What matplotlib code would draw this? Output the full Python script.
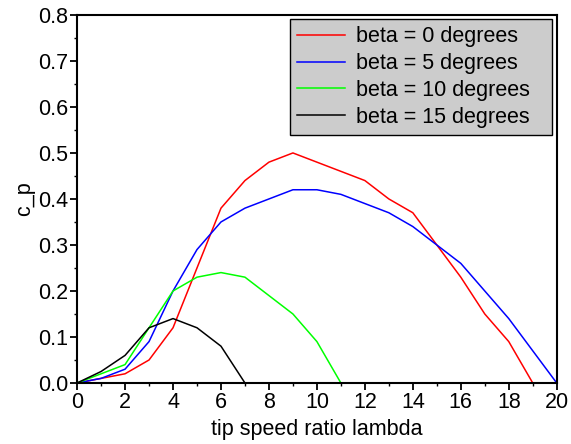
import matplotlib
matplotlib.use("Agg")
import matplotlib.pyplot as plt
from matplotlib.ticker import MultipleLocator

plt.rcParams['font.family'] = ['Liberation Sans', 'DejaVu Sans']

lam_0 = list(range(0, 20))
cp_0 = [0, 0.01, 0.02, 0.05, 0.12, 0.25, 0.38, 0.44, 0.48, 0.50, 0.48, 0.46,
        0.44, 0.40, 0.37, 0.30, 0.23, 0.15, 0.09, 0.0]
lam_5 = list(range(0, 21))
cp_5 = [0, 0.01, 0.03, 0.09, 0.20, 0.29, 0.35, 0.38, 0.40, 0.42, 0.42, 0.41,
        0.39, 0.37, 0.34, 0.30, 0.26, 0.20, 0.14, 0.07, 0.0]
lam_10 = list(range(0, 12))
cp_10 = [0, 0.02, 0.04, 0.12, 0.20, 0.23, 0.24, 0.23, 0.19, 0.15, 0.09, 0.0]
lam_15 = list(range(0, 8))
cp_15 = [0, 0.025, 0.06, 0.12, 0.14, 0.12, 0.08, 0.0]

labels = ["beta = 0 degrees", "beta = 5 degrees", "beta = 10 degrees", "beta = 15 degrees"]
colors = ["#ff0000", "#0000ff", "#00ff00", "#000000"]

FS = 15.5

fig = plt.figure(figsize=(5.71, 4.44), dpi=100)
ax = fig.add_axes([0.135, 0.1374, 0.84, 0.829])

for xs, ys, lab, c in zip([lam_0, lam_5, lam_10, lam_15], [cp_0, cp_5, cp_10, cp_15], labels, colors):
    ax.plot(xs, ys, color=c, lw=1.1, label=lab)

ax.set_xlim(0, 20)
ax.set_ylim(0, 0.8)
ax.xaxis.set_major_locator(MultipleLocator(2))
ax.xaxis.set_minor_locator(MultipleLocator(1))
ax.yaxis.set_major_locator(MultipleLocator(0.1))
ax.yaxis.set_minor_locator(MultipleLocator(0.05))
ax.yaxis.set_major_formatter(matplotlib.ticker.FormatStrFormatter('%.1f'))
ax.tick_params(which='major', direction='out', length=5, width=1.3, labelsize=FS, pad=1.5)
ax.tick_params(which='minor', direction='out', length=2.5, width=1.0)
for s in ax.spines.values():
    s.set_linewidth(1.5)

ax.set_xlabel("tip speed ratio lambda", fontsize=FS, labelpad=4)
ax.set_ylabel("c_p", fontsize=FS, labelpad=2)

leg = ax.legend(loc='upper left', bbox_to_anchor=(0.4437, 0.3, 0.5458, 0.689),
                mode='expand', fontsize=FS, frameon=True, fancybox=False,
                facecolor='#cccccc', edgecolor='black', framealpha=1,
                handlelength=2.2, handletextpad=0.55, labelspacing=0.27,
                borderpad=0.34, borderaxespad=0.0)
leg.get_frame().set_linewidth(1.0)

fig.savefig("out.png", dpi=100)
